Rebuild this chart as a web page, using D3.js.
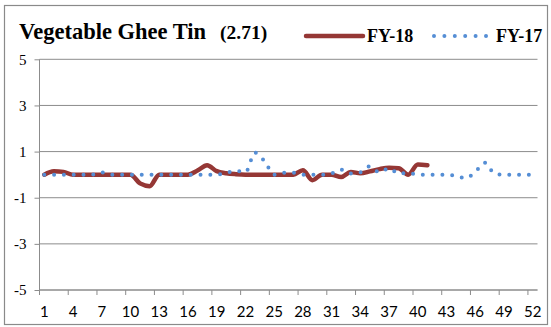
<!DOCTYPE html>
<html>
<head>
<meta charset="utf-8">
<script src="https://cdn.jsdelivr.net/npm/d3@7"></script>
<style>
  html, body { margin: 0; padding: 0; background: #fff; }
  svg { display: block; }
</style>
</head>
<body>
<svg id="chart" width="551" height="327"></svg>
<script>
// Weekly price change (%) – Vegetable Ghee Tin
const weeks = [1,2,3,4,5,6,7,8,9,10,11,12,13,14,15,16,17,18,19,20,21,22,23,24,25,26,
               27,28,29,30,31,32,33,34,35,36,37,38,39,40,41,42,43,44,45,46,47,48,49,50,51,52];
const weekLabels = [1,4,7,10,13,16,19,22,25,28,31,34,37,40,43,46,49,52];
const yTicks = [-5,-3,-1,1,3,5];

const fy18 = [0,0.15,0.12,0,0,0,0,0,0,0,-0.38,-0.5,0,0,0,0,0.18,0.41,0.15,0.06,
              0.02,0,0,0,0,0,0,0.19,-0.24,0,0,-0.1,0.12,0.06,0.14,0.24,0.3,0.28,0,0.44,0.41];
const fy17 = [0,0,0,0,0,0,0.1,0,0,0,0,0,0,0,0,0,0,0,0,0.08,0.17,0.1,0.95,0.58,0,0.08,
              0.08,0,0,0,0.05,0.22,0.05,0.1,0.36,0.1,0.28,0.05,0.08,0,0,0,0,-0.05,-0.15,0.12,
              0.52,0.05,0,0,0,0];

const titleText = "Vegetable Ghee Tin";
const valueText = "(2.71)";
const seriesNames = ["FY-18", "FY-17"];

const SERIF = '"Liberation Serif"';
const SANS = '"Lato"';

const svg = d3.select("#chart");

// chart frame
svg.append("rect")
  .attr("x", 4.5).attr("y", 5.5).attr("width", 543).attr("height", 319)
  .attr("fill", "#fff").attr("stroke", "#8a8a8a").attr("stroke-width", 1.2);

const plot = { left: 39.5, right: 537.5, top: 59.3, bottom: 290 };

const x = d3.scaleBand().domain(weeks).range([plot.left, plot.right]).padding(0);
const cx = d => x(d) + x.bandwidth() / 2;
const y = d3.scaleLinear().domain([-5, 5]).range([plot.bottom, plot.top]);

// horizontal gridlines
svg.append("g")
  .selectAll("line")
  .data(yTicks)
  .join("line")
  .attr("x1", plot.left).attr("x2", plot.right)
  .attr("y1", d => y(d)).attr("y2", d => y(d))
  .attr("stroke", "#8c8c8c").attr("stroke-width", 1);

// y axis
const yAxis = svg.append("g")
  .attr("transform", `translate(${plot.left},0)`)
  .call(d3.axisLeft(y).tickValues(yTicks).tickSize(5).tickPadding(8).tickFormat(d3.format("d")));
yAxis.select(".domain").attr("stroke", "#8c8c8c").attr("d", `M0,${plot.top}V${plot.bottom}`);
yAxis.selectAll(".tick line").attr("stroke", "#8c8c8c");
yAxis.selectAll(".tick text")
  .style("font-family", SERIF)
  .style("font-size", "15px").attr("fill", "#000")
  .text(d => d < 0 ? "-" + Math.abs(d) : d);

// x axis: labels centred on weeks, tick marks at band edges
const xAxis = svg.append("g")
  .attr("transform", `translate(0,${plot.bottom})`)
  .call(d3.axisBottom(x).tickValues(weekLabels).tickSize(0).tickPadding(16));
xAxis.select(".domain").attr("stroke", "#8c8c8c").attr("d", `M${plot.left},0H${plot.right}`);
xAxis.selectAll(".tick text")
  .style("font-family", SANS)
  .style("font-size", "15px").attr("fill", "#000");
xAxis.append("g")
  .selectAll("line")
  .data(weekLabels)
  .join("line")
  .attr("x1", d => x(d)).attr("x2", d => x(d))
  .attr("y1", 0).attr("y2", 5)
  .attr("stroke", "#8c8c8c");

const line = d3.line()
  .x((d, i) => cx(weeks[i]))
  .y(d => y(d))
  .curve(d3.curveMonotoneX);

// FY-18 solid
svg.append("path")
  .datum(fy18)
  .attr("d", line)
  .attr("fill", "none")
  .attr("stroke", "#953735")
  .attr("stroke-width", 4.5)
  .attr("stroke-linejoin", "round")
  .attr("stroke-linecap", "round");

// FY-17 round dots
svg.append("path")
  .datum(fy17)
  .attr("d", line)
  .attr("fill", "none")
  .attr("stroke", "#558ed5")
  .attr("stroke-width", 4)
  .attr("stroke-dasharray", "0 9.8")
  .attr("stroke-linecap", "round");

// title
const title = svg.append("text")
  .attr("x", 19).attr("y", 39)
  .style("font-family", SERIF)
  .style("font-weight", "bold");
title.append("tspan").style("font-size", "22.5px").text(titleText);
title.append("tspan").style("font-size", "19.5px").attr("dx", 14).text(valueText);

// legend
const legend = svg.append("g")
  .style("font-family", SERIF)
  .style("font-weight", "bold").style("font-size", "18px");
legend.append("line")
  .attr("x1", 306).attr("x2", 363).attr("y1", 36).attr("y2", 36)
  .attr("stroke", "#953735").attr("stroke-width", 4.5).attr("stroke-linecap", "round");
legend.append("text").attr("x", 367).attr("y", 42).text(seriesNames[0]);
legend.append("line")
  .attr("x1", 434).attr("x2", 487).attr("y1", 36).attr("y2", 36)
  .attr("stroke", "#558ed5").attr("stroke-width", 4)
  .attr("stroke-dasharray", "0 10.4").attr("stroke-linecap", "round");
legend.append("text").attr("x", 496).attr("y", 42).text(seriesNames[1]);
</script>
</body>
</html>
